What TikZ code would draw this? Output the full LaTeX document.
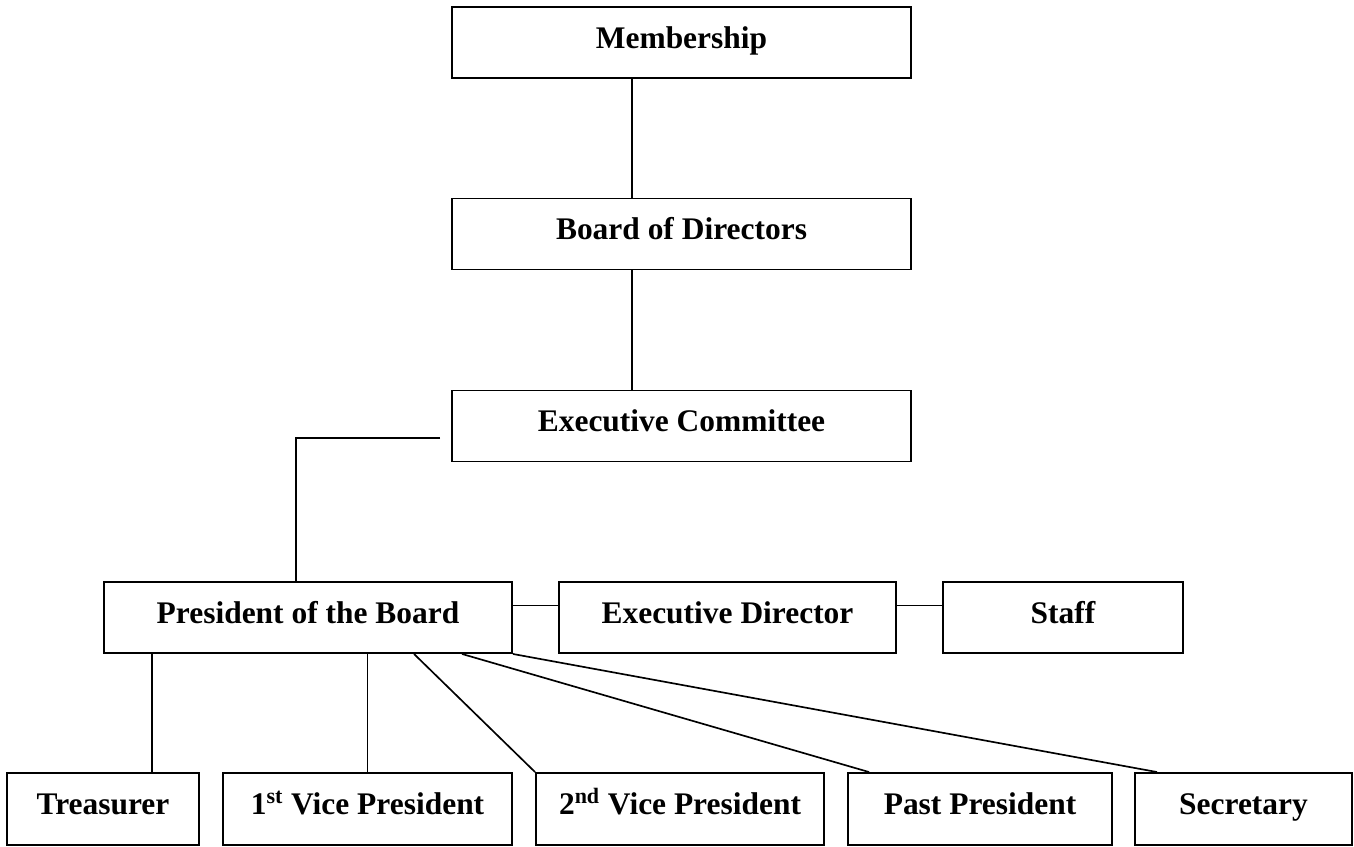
\documentclass[tikz,border=0pt]{standalone}
\usepackage{fontspec}
\setmainfont{Liberation Serif}
\usepackage{tikz}
\usetikzlibrary{positioning,calc}
\tikzset{
  orgbox/.style={draw,line width=1.1pt,rectangle,inner sep=0pt,
    font=\fontsize{17.9}{21}\selectfont\bfseries,
    text height=12.5pt,text depth=6.2pt,minimum height=71*0.02cm},
  orgline/.style={line width=0.95pt}
}

\begin{document}
\begin{tikzpicture}[x=0.02cm,y=-0.02cm]
\useasboundingbox (0,0) rectangle (1354,846);
% top column
\node[orgbox,minimum width=459*0.02cm] (memb) at (681.5,42.5) {Membership};
\node[orgbox,minimum width=459*0.02cm] (board) at (681.5,234) {Board of Directors};
\node[orgbox,minimum width=459*0.02cm] (excom) at (681.5,426) {Executive Committee};
\coordinate (spine) at (632,0);
\coordinate (ecend) at (440,438);
\draw[orgline] (memb.south -| spine) -- (board.north -| spine);
\draw[orgline] (board.south -| spine) -- (excom.north -| spine);

% middle row
\node[orgbox,minimum width=408*0.02cm] (pres) at (308,617.5) {President of the Board};
\node[orgbox,minimum width=337*0.02cm] (exdir) at (727.5,617.5) {Executive Director};
\node[orgbox,minimum width=240*0.02cm] (staff) at (1063,617.5) {Staff};
\draw[orgline] (ecend) -| ($(pres.north)+(-12,0)$);
\draw[orgline] ($(pres.east)+(0,-12)$) -- ($(exdir.west)+(0,-12)$);
\draw[orgline] ($(exdir.east)+(0,-12)$) -- ($(staff.west)+(0,-12)$);

% bottom row
\node[orgbox,minimum width=192*0.02cm,minimum height=72*0.02cm] (treas) at (103,809) {Treasurer};
\node[orgbox,minimum width=289*0.02cm,minimum height=72*0.02cm] (vpone) at (367.5,809) {1\textsuperscript{st} Vice President};
\node[orgbox,minimum width=288*0.02cm,minimum height=72*0.02cm] (vptwo) at (680,809) {2\textsuperscript{nd} Vice President};
\node[orgbox,minimum width=264*0.02cm,minimum height=72*0.02cm] (past) at (980,809) {Past President};
\node[orgbox,minimum width=217*0.02cm,minimum height=72*0.02cm] (secr) at (1243.5,809) {Secretary};
\coordinate (tr) at ($(treas.north)+(49,0)$);
\draw[orgline] (tr) -- (tr |- pres.south);
\draw[orgline] (vpone.north) -- (vpone.north |- pres.south);
\draw[orgline] ($(pres.south west)+(311,0)$) -- (vptwo.north west);
\draw[orgline] ($(pres.south west)+(359,0)$) -- ($(past.north west)+(22,0)$);
\draw[orgline] (pres.south east) -- ($(secr.north west)+(23,0)$);
\end{tikzpicture}
\end{document}
